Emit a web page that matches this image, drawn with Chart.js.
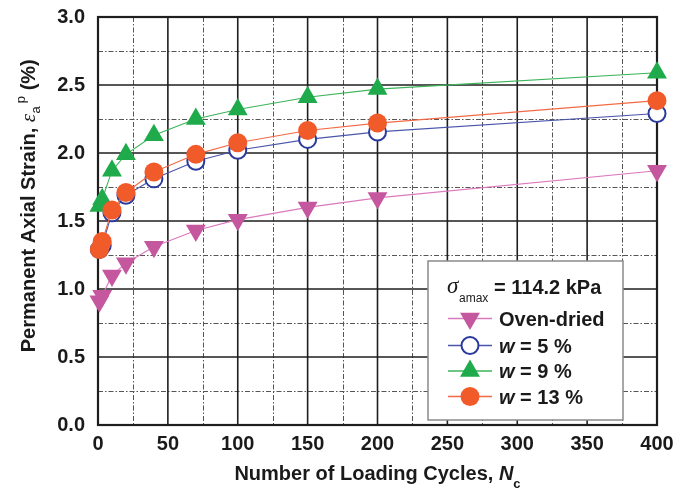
<!DOCTYPE html>
<html><head><meta charset="utf-8">
<script src="https://cdn.jsdelivr.net/npm/chart.js@4.4.0/dist/chart.umd.min.js"></script>
<style>html,body{margin:0;padding:0;background:#fff;}#wrap{width:685px;height:488px;}</style>
</head><body><div id="wrap"><canvas id="c" width="685" height="488"></canvas></div>
<script>
// ---- data ----
const cycles = [1, 3, 10, 20, 40, 70, 100, 150, 200, 400];
const ovenDried = [0.91, 0.95, 1.10, 1.19, 1.31, 1.43, 1.51, 1.60, 1.67, 1.87];
const w5  = [1.29, 1.32, 1.56, 1.69, 1.81, 1.94, 2.02, 2.10, 2.155, 2.29];
const w9  = [1.61, 1.66, 1.87, 1.99, 2.13, 2.25, 2.32, 2.41, 2.47, 2.59];
const w13 = [1.29, 1.35, 1.58, 1.71, 1.86, 1.99, 2.075, 2.165, 2.22, 2.385];
const xTickLabels = ['0','50','100','150','200','250','300','350','400'];
const yTickLabels = ['0.0','0.5','1.0','1.5','2.0','2.5','3.0'];
const seriesNames = ['Oven-dried', 'w = 5 %', 'w = 9 %', 'w = 13 %'];
const legendTitle = '= 114.2 kPa';

const styles = [
  {line:'#dc78bd', fill:'#c5579f', stroke:'#c5579f', shape:'triangle', rot:180, r:11.5, bw:0},
  {line:'#4a55aa', fill:'#ffffff', stroke:'#2b3a9c', shape:'circle', rot:0, r:8.5, bw:2},
  {line:'#3cb45a', fill:'#1fab4b', stroke:'#1fab4b', shape:'triangle', rot:0, r:11.5, bw:0},
  {line:'#f26a45', fill:'#f15a29', stroke:'#f15a29', shape:'circle', rot:0, r:9.5, bw:0}
];
const seriesVals = [ovenDried, w5, w9, w13];
const TXT = '#1a1a1a';

const datasets = seriesVals.map((vals, i) => ({
  label: seriesNames[i],
  data: cycles.map((c, k) => ({x: c, y: vals[k]})),
  borderColor: styles[i].line,
  borderWidth: 1.1,
  pointStyle: styles[i].shape,
  pointRotation: styles[i].rot,
  pointRadius: styles[i].r,
  pointBackgroundColor: styles[i].fill,
  pointBorderColor: styles[i].stroke,
  pointBorderWidth: styles[i].bw,
  tension: 0,
  clip: false,
  order: 4 - i
}));

const gridPlugin = {
  id: 'grid',
  beforeDatasetsDraw(chart) {
    const {ctx, chartArea: a, scales: {x, y}} = chart;
    ctx.save();
    ctx.strokeStyle = '#555';
    ctx.lineWidth = 1;
    ctx.setLineDash([5, 2, 1.5, 2]);
    x.ticks.forEach(t => {
      if (t.value % 50 !== 0) {
        const px = Math.round(x.getPixelForValue(t.value)) + 0.5;
        ctx.beginPath(); ctx.moveTo(px, a.top); ctx.lineTo(px, a.bottom); ctx.stroke();
      }
    });
    y.ticks.forEach(t => {
      if (Math.abs(t.value * 2 - Math.round(t.value * 2)) > 1e-6) {
        const py = Math.round(y.getPixelForValue(t.value)) + 0.5;
        ctx.beginPath(); ctx.moveTo(a.left, py); ctx.lineTo(a.right, py); ctx.stroke();
      }
    });
    ctx.setLineDash([]);
    ctx.strokeStyle = '#1e1e1e';
    ctx.lineWidth = 1.6;
    x.ticks.forEach(t => {
      if (t.value % 50 === 0) {
        const px = x.getPixelForValue(t.value);
        ctx.beginPath(); ctx.moveTo(px, a.top); ctx.lineTo(px, a.bottom); ctx.stroke();
      }
    });
    y.ticks.forEach(t => {
      if (Math.abs(t.value * 2 - Math.round(t.value * 2)) <= 1e-6) {
        const py = y.getPixelForValue(t.value);
        ctx.beginPath(); ctx.moveTo(a.left, py); ctx.lineTo(a.right, py); ctx.stroke();
      }
    });
    ctx.lineWidth = 2.2;
    ctx.strokeRect(a.left, a.top, a.right - a.left, a.bottom - a.top);
    ctx.restore();
  }
};

function drawMarker(ctx, st, cx, cy) {
  ctx.save();
  ctx.fillStyle = st.fill; ctx.strokeStyle = st.stroke; ctx.lineWidth = st.bw;
  ctx.beginPath();
  if (st.shape === 'circle') {
    ctx.arc(cx, cy, st.r, 0, Math.PI * 2);
  } else {
    let rad = st.rot * Math.PI / 180;
    for (let k = 0; k < 3; k++) {
      const px = cx + Math.sin(rad) * st.r, py = cy - Math.cos(rad) * st.r;
      if (k === 0) ctx.moveTo(px, py); else ctx.lineTo(px, py);
      rad += 2 * Math.PI / 3;
    }
    ctx.closePath();
  }
  ctx.fill();
  if (st.bw > 0) ctx.stroke();
  ctx.restore();
}

const annotPlugin = {
  id: 'annot',
  afterDraw(chart) {
    const {ctx, chartArea: a} = chart;
    ctx.save();
    ctx.fillStyle = TXT;
    ctx.textBaseline = 'alphabetic';
    const B = 'bold 20px "Liberation Sans", Arial, sans-serif';
    const BI = 'italic bold 20px "Liberation Sans", Arial, sans-serif';
    // ---- x title ----
    const xs1 = 'Number of Loading Cycles, ';
    ctx.font = B; const w1 = ctx.measureText(xs1).width;
    ctx.font = BI; const w2 = ctx.measureText('N').width;
    ctx.font = 'bold 13px "Liberation Sans", Arial, sans-serif'; const w3 = ctx.measureText('c').width;
    let sx = (a.left + a.right) / 2 - (w1 + w2 + w3) / 2;
    const by = 480;
    ctx.textAlign = 'left';
    ctx.font = B; ctx.fillText(xs1, sx, by); sx += w1;
    ctx.font = BI; ctx.fillText('N', sx, by); sx += w2;
    ctx.font = 'bold 13px "Liberation Sans", Arial, sans-serif'; ctx.fillText('c', sx, by + 8);

    // ---- y title ----
    ctx.save();
    ctx.translate(35, 206);
    ctx.rotate(-Math.PI / 2);
    const ys1 = 'Permanent Axial Strain, ';
    const EPS = 'italic 21px "Liberation Serif", "DejaVu Serif", serif';
    const SM = '13px "Liberation Sans", Arial, sans-serif';
    const ys2 = ' (%)';
    ctx.font = B; const q1 = ctx.measureText(ys1).width;
    ctx.font = EPS; const q2 = ctx.measureText('\u03B5').width;
    ctx.font = SM; const q3 = ctx.measureText('a').width; const q4 = ctx.measureText('p').width;
    ctx.font = B; const q5 = ctx.measureText(ys2).width;
    const gap = 3;
    const tot = q1 + q2 + q3 + gap + q4 + q5;
    let tx = -tot / 2;
    ctx.font = B; ctx.fillText(ys1, tx, 0); tx += q1;
    ctx.font = EPS; ctx.fillText('\u03B5', tx, 0); tx += q2 + 0.5;
    ctx.font = SM; ctx.fillText('a', tx, 5); tx += q3 + gap;
    ctx.fillText('p', tx, -10); tx += q4;
    ctx.font = B; ctx.fillText(ys2, tx, 0);
    ctx.restore();

    // ---- legend ----
    const L = 428, T = 261, R = 623, Bt = 420;
    ctx.fillStyle = '#ffffff';
    ctx.fillRect(L, T, R - L, Bt - T);
    ctx.strokeStyle = '#8a8a8a'; ctx.lineWidth = 1.5;
    ctx.strokeRect(L, T, R - L, Bt - T);
    ctx.fillStyle = TXT;
    ctx.font = 'italic 23px "Liberation Serif", "DejaVu Serif", serif';
    ctx.fillText('\u03C3', 447, 293);
    ctx.font = '12px "Liberation Sans", Arial, sans-serif';
    ctx.fillText('amax', 459, 302);
    ctx.font = B;
    ctx.fillText(legendTitle, 494, 294);
    const rowsY = [318.5, 345.5, 371, 396.5];
    const baseY = [325.5, 352.5, 378, 403.5];
    seriesNames.forEach((name, i) => {
      const st = styles[i];
      ctx.save();
      ctx.strokeStyle = st.line; ctx.lineWidth = 1.5;
      ctx.beginPath(); ctx.moveTo(448, rowsY[i]); ctx.lineTo(492, rowsY[i]); ctx.stroke();
      ctx.restore();
      drawMarker(ctx, st, 470, rowsY[i]);
      ctx.fillStyle = TXT;
      let px = 499;
      if (name.startsWith('w')) {
        ctx.font = BI; ctx.fillText('w', px, baseY[i]); px += ctx.measureText('w').width;
        ctx.font = B; ctx.fillText(name.slice(1), px, baseY[i]);
      } else {
        ctx.font = B; ctx.fillText(name, px, baseY[i]);
      }
    });
    ctx.restore();
  }
};

new Chart(document.getElementById('c'), {
  type: 'line',
  data: {datasets},
  options: {
    responsive: false,
    devicePixelRatio: 1,
    animation: false,
    layout: {padding: {top: 17, right: 28, left: 0, bottom: 0}},
    plugins: {legend: {display: false}, tooltip: {enabled: false}},
    scales: {
      x: {
        type: 'linear', min: 0, max: 400,
        grid: {display: false, drawTicks: false}, border: {display: false},
        afterFit(s) { s.height = 63; s.paddingLeft = 0; s.paddingRight = 0; },
        ticks: {
          stepSize: 25, autoSkip: false, maxRotation: 0, padding: 7, color: TXT,
          font: {family: '"Liberation Sans", Arial, sans-serif', size: 20, weight: 'bold'},
          callback: v => (v % 50 === 0 ? xTickLabels[v / 50] : '')
        }
      },
      y: {
        type: 'linear', min: 0, max: 3,
        grid: {display: false, drawTicks: false}, border: {display: false},
        afterFit(s) { s.width = 98; s.paddingTop = 0; s.paddingBottom = 0; },
        ticks: {
          stepSize: 0.25, autoSkip: false, padding: 13, color: TXT,
          font: {family: '"Liberation Sans", Arial, sans-serif', size: 20, weight: 'bold'},
          callback: v => {
            const k = Math.round(v * 2);
            return Math.abs(v * 2 - k) < 1e-6 ? yTickLabels[k] : '';
          }
        }
      }
    }
  },
  plugins: [gridPlugin, annotPlugin]
});
</script></body></html>
